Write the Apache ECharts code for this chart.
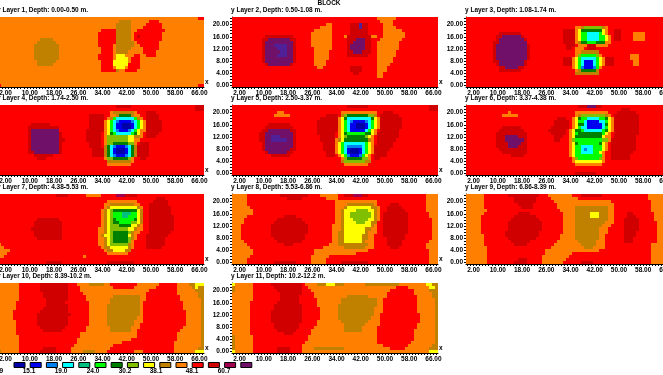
<!DOCTYPE html>
<html><head><meta charset="utf-8">
<style>html,body{margin:0;padding:0;background:#fff;overflow:hidden}#c{width:663px;height:375px}</style>
<script src="https://cdn.jsdelivr.net/npm/echarts@6/dist/echarts.min.js"></script>
</head><body><div id="c"></div>
<script>
const titles=["Layer 1, Depth: 0.00-0.50 m.","Layer 2, Depth: 0.50-1.08 m.","Layer 3, Depth: 1.08-1.74 m.","Layer 4, Depth: 1.74-2.50 m.","Layer 5, Depth: 2.50-3.37 m.","Layer 6, Depth: 3.37-4.38 m.","Layer 7, Depth: 4.38-5.53 m.","Layer 8, Depth: 5.53-6.86 m.","Layer 9, Depth: 6.86-8.39 m.","Layer 10, Depth: 8.39-10.2 m.","Layer 11, Depth: 10.2-12.2 m."];
const legendColors=["#0000a8","#0000f0","#0080f0","#00ffff","#00c080","#00ff00","#008000","#80c000","#ffff00","#c08000","#ff8000","#ff0000","#d00000","#a00050","#701068"];
const legendLabels=["11.9","15.1","19.0","24.0","30.2","38.1","48.1","60.7"];
// resistivity value standing for each colour band
const bandValues={A:11,U:12.6,S:14.2,C:16,T:18,N:20.2,G:22.7,L:25.4,Y:28.5,B:32,O:36,R:40.4,D:45.4,M:51,P:57,V:64};
const baseBand=["O","R","R","R","R","R","R","R","R","O","O"];
// rows top (y=22) to bottom (y=0); "from-toBand" spans over the layer's base band
const layer1=["66-67R","40-43B 50-52R","39-43B 49-53R","39-43B 48-53R","34-38R 39-43B 46-54R","33-38R 39-43B 45-53R","33-38R 39-43B 45-53R 46-46D","14-17B 33-38R 39-43B 45-53R","13-18B 33-38R 39-44B 46-52R","12-19B 33-37R 39-44B 47-52R","12-19B 34-37R 39-43B 48-52R","12-19B 34-37R 39-42B 48-51R","12-19B 33-37R 39-41Y 45-46R 49-51R","12-19B 33-37R 39-42Y 44-46R","13-18B 34-37R 38-42Y 44-46R","13-17B 34-37R 38-42Y 43-46R","34-37R 39-41Y 43-46R","34-38R 39-39B 42-45R","","","","","0-0R 66-67R"];
const layer2=["48-53O","49-52O","31-32O 39-44D 42-42V 50-52O","29-32O 39-44D 42-42V 50-53O","27-32O 39-44D 50-55O","26-32O 39-44D 50-56O","11-19D 26-32O 37-37O 38-45D 46-47O 50-56O","10-20D 12-18P 26-32O 38-45D 41-43P 49-55O","10-20D 11-19P 26-32O 38-45D 40-43P 48-54O","10-20D 11-19P 14-17V 26-32O 38-45D 39-43P 48-54O","10-20D 11-19P 15-17V 27-32O 38-45D 39-43P 48-54O","10-20D 11-19P 16-17V 27-31O 38-45D 40-42P 48-53O","10-20D 11-19P 15-17V 27-31O 38-44D 48-53O","10-20D 11-19P 27-31O 48-52O","10-20D 11-19P 27-30O 48-52O","11-19D 12-18P 27-30O 48-51O","28-29O 39-42D 48-50O","39-42D 48-50O","40-41D 48-49O","48-49O","","",""];
const layer3=["","","","36-46O 38-45B 39-44L","32-35D 36-46O 37-45Y 38-44G 49-50D","11-17D 32-35D 36-46O 37-45Y 38-44N 40-43C 49-50D 55-58O","10-18D 12-17P 32-35D 36-47O 37-46Y 38-45N 40-43C 49-50D 55-58O","10-19D 11-18P 32-35D 36-47O 37-46Y 38-45N 40-43C 49-50D 55-58O","9-19D 11-19P 32-35D 36-47O 37-45B 38-45G 40-42N","9-20D 10-19P 33-35D 37-46O 40-42D","9-20D 10-19P 33-34D 36-38O 40-42D","9-20D 10-19P 36-43O 38-43B","9-20D 10-19P 36-44O 37-43L 38-42N 54-56O","9-20D 10-19P 32-34D 35-45O 36-44Y 37-43N 38-42C 46-48D 54-56O","9-19D 11-18P 32-34D 35-45O 36-44Y 37-43N 38-42C 39-41U 46-48D 55-56O","10-19D 11-18P 32-34D 35-45O 36-44Y 37-43N 38-42C 39-41U 46-48D 55-56O","11-18D 13-16P 35-44O 36-43Y 37-43N 38-42S 39-41U","11-17D 36-43O 37-43B 38-42G","36-43B","","","",""];
const layer4=["39-43D 65-67D","65-67D","37-45O 38-44B 49-51D","30-34D 37-46O 39-44B 40-43G 49-52D","30-34D 36-47O 37-46B 38-45N 39-44C 49-52D","30-34D 35-48O 36-47Y 37-46N 38-45C 39-44S 40-43U 49-53D","11-16D 30-34D 35-48O 36-47Y 37-46N 38-45C 39-44U 41-43A 49-53D","10-19D 30-34D 35-48O 36-47Y 37-46N 38-45C 39-44U 41-43A 49-53D","10-19D 11-19P 29-34D 35-48O 36-46Y 37-45N 38-44C 39-43S 40-42U 49-53D","10-20D 11-19P 29-33D 35-47O 36-46Y 37-45G 38-44N 39-43C 49-52D","10-20D 11-19P 29-33D 35-47O 36-42L 43-44Y 45-46B 49-51D","10-21D 11-19P 29-33D 35-46O 36-42L 43-44Y","10-20D 11-19P 30-33D 35-45O 36-44L 38-42G 47-49D","10-20D 11-19P 30-33D 35-45B 36-44G 37-43C 38-42S 39-41U 46-49D","10-20D 11-19P 31-34D 35-45B 36-44G 37-43C 38-42U 39-41A 46-49D","10-20D 12-19P 31-34D 35-45B 36-44G 37-43C 38-42U 39-41A 46-49D","12-17D 31-34D 35-45B 36-44G 37-43C 38-42S 39-41U 46-49D","13-15D 35-44O 36-43L 38-42G 47-48D","36-44O 36-43B","36-43O","","",""];
const layer5=["38-44D 65-67D","65-67D","15-16O 36-47O 50-52D","14-18O 31-34D 36-47B 37-46L 38-44G 49-54D","29-34D 35-48O 36-47Y 37-46G 38-45C 49-55D","28-34D 35-48O 36-47Y 37-46N 38-45C 39-44S 40-43U 49-55D","12-18D 28-34D 35-48O 36-47Y 37-46N 38-45C 39-44U 41-43A 49-55D","11-19D 28-34D 35-48O 36-47Y 37-46N 38-45C 39-44U 41-43A 49-55D","10-20D 12-18P 28-34D 35-47O 36-46Y 37-45N 38-44C 39-43U 49-54D","9-20D 11-19P 28-33D 35-47O 36-46Y 37-45G 38-43N 48-54D","9-20D 11-19P 13-15V 29-33D 35-46O 36-45Y 37-44L 38-43G 48-54D","9-20D 11-19P 13-17V 29-33D 34-46O 35-45B 36-44Y 37-44G 48-53D","10-20D 11-19P 30-33D 34-46O 35-45Y 36-44N 37-43C 48-52D","10-20D 11-19P 30-33D 34-46O 35-45Y 36-44N 37-43C 38-42S 47-52D","10-20D 11-18P 30-33D 34-46O 35-45Y 36-44N 37-43C 38-42U 39-41A 47-51D","11-19D 12-17P 31-33D 34-46O 35-45Y 36-44N 37-43C 38-42U 39-41A 47-50D","13-18D 31-33D 35-45O 36-44Y 37-43N 38-42S 39-41U 47-50D","36-45O 37-44L 38-42G 47-48D","36-45B 37-43L","37-44O","","",""];
const layer6=["37-44D 40-42P","51-53D","14-14O 36-46O 50-55D","12-16O 36-47O 37-46B 38-45L 49-56D","30-32D 35-48O 36-47Y 37-46G 38-45N 40-43C 49-56D","29-33D 35-48O 36-47Y 37-46N 39-45C 40-43U 49-56D","29-33D 35-48O 36-47Y 37-46G 39-45C 40-44U 49-56D","12-17D 28-33D 35-48O 36-47Y 37-46N 38-45C 40-44U 49-56D","11-18D 27-32D 34-48O 35-47Y 36-46G 38-45N 39-44C 49-56D","10-19D 28-32D 34-47O 35-46Y 36-45N 37-44G 49-56D","10-19D 13-16P 29-31D 34-47O 35-45Y 36-44G 49-55D","10-19D 13-18P 29-30D 34-47O 35-46L 36-44N 48-55D","10-19D 14-17P 34-46O 35-45Y 36-44G 37-43N 48-55D","10-19D 14-16P 34-46O 35-45Y 36-44N 38-41C 48-55D","11-19D 34-46O 35-45Y 36-44N 38-41C 39-39S 48-55D","12-19D 34-45O 35-44Y 36-43N 38-41C 48-54D","15-18D 34-45O 35-44Y 36-44N 48-53D","35-45O 36-44L 37-43N 48-53D","35-45O 36-44Y","36-44O","","","36-42D"];
const layer7=["19-22D 29-33O 39-42M 42-45D","52-54D","36-45O 51-55D","35-46O 37-44B 50-55D","35-47O 36-46B 37-45Y 50-56D","34-47O 35-47B 36-46Y 37-45L 38-45G 50-56D","34-47O 35-47B 36-46Y 37-45L 38-45N 41-43T 50-56D","34-47O 35-47B 36-46Y 37-45L 38-45N 41-42T 50-57D","13-19D 34-47O 35-47B 36-46Y 37-45L 38-45G 39-44N 50-57D","12-20D 34-47O 35-47B 36-46Y 37-45L 38-43G 40-43N 50-57D","12-20D 34-47O 35-46B 36-45Y 37-42L 40-43G 50-57D","11-20D 33-47O 35-45B 36-44Y 37-42L 50-57D","12-20D 33-46O 35-44B 36-43Y 37-43L 38-42G 50-56D","12-20D 33-45O 34-44B 35-43Y 37-42L 38-42G 49-55D","13-20D 33-45O 35-44B 36-43Y 37-43L 38-42G 49-54D","33-44O 35-43B 36-43Y 37-43L 38-42G 49-54D","0-0O 33-44O 35-43B 36-42Y 37-42L 49-54D","0-1O 34-44O 35-43B 37-42Y 49-53D","0-3O 35-43O 36-43B 38-41Y","0-2O 36-42O","0-1O 28-28O","","16-20D 36-44D"];
const layer8=["0-4O 16-24D 29-34O 37-44D 40-42M 64-67O","0-4O 18-22D 31-34O 64-67O","0-4O 34-47O 64-67O","0-4O 34-47O 38-46B 52-54D 64-67O","0-5O 34-48O 37-47B 38-45Y 51-55D 64-67O","0-6O 34-48O 36-47B 37-46Y 41-44L 51-56D 64-67O","0-6O 34-48O 36-47B 37-46Y 39-45L 50-57D 65-67O","0-4O 17-20D 34-48O 36-47B 37-46Y 39-45L 50-57D 65-67O","0-3O 15-22D 34-48O 36-47B 37-46Y 40-44L 50-57D 66-67O","0-3O 14-23D 34-47O 36-47B 37-45Y 41-43L 50-57D 66-67O","0-2O 13-24D 33-47O 36-46B 37-45Y 50-57D 66-67O","0-2O 13-24D 33-47O 36-45B 37-43Y 50-57D 66-67O","0-2O 13-24D 33-47O 35-44B 37-43Y 50-57D 66-67O","0-2O 13-23D 33-46O 35-44B 37-42Y 50-56D 66-67O","0-2O 14-23D 33-46O 35-44B 37-42Y 51-56D 66-67O","0-3O 15-22D 33-46O 35-43B 37-42Y 51-55D 65-67O","0-4O 17-19D 32-46O 35-44B 51-55D 64-67O","0-5O 30-46O 37-43B 52-54D 64-67O","0-6O 27-44O 65-67O","0-6O 27-40O 65-67O","0-5O 26-31O 65-67O","0-4O 26-30O 65-67O","0-4O 14-20D 26-30O 36-44D 65-67O"];
const layer9=["0-5O 14-23D 27-34O 38-44D 60-67O","0-5O 16-22D 28-36O 60-67O","0-5O 16-22D 29-47O 61-67O","0-5O 17-21D 30-48O 61-67O","0-5O 18-21D 30-48O 36-46B 61-67O","0-6O 31-48O 36-46B 61-67O","0-5O 17-20D 32-48O 36-46B 41-43Y 53-54D 62-67O","0-4O 16-22D 32-48O 36-46B 41-43Y 53-55D 62-67O","0-4O 15-23D 32-48O 36-46B 52-56D 62-67O","0-4O 14-24D 32-48O 36-45B 52-56D 63-67O","0-4O 14-24D 32-47O 36-44B 52-56D 63-67O","0-4O 14-24D 32-46O 36-43B 52-56D 63-67O","0-4O 13-23D 32-46O 36-43B 52-55D 63-67O","0-5O 13-23D 31-45O 36-43B 52-55D 63-67O","0-5O 14-22D 31-45O 36-43B 52-54D 63-67O","0-5O 15-20D 30-45O 37-42B 52-54D 63-67O","0-5O 16-19D 29-45O 38-42B 61-67O","0-6O 28-45O 39-41B 61-67O","0-6O 26-43O 61-67O","0-6O 26-34O 61-67O","0-6O 25-33O 61-67O","0-6O 17-19D 25-32O 61-67O","0-6O 16-19D 25-31O 38-41D 61-67O"];
const layer10=["7-25R 14-22D 30-34B 37-45R 53-58R 63-64B 65-67Y","7-26R 14-22D 38-44R 52-58R 64-64B 65-65Y 66-67B","7-26R 14-22D 50-58R 65-67B","7-27R 15-22D 49-58R 66-67B","7-28R 15-22D 38-46B 49-59R 66-67B","7-28R 16-22D 37-46B 49-59R 67-67B","6-29R 16-21D 37-46B 48-60R 67-67B","6-29R 16-22D 36-46B 48-60R 67-67B","6-29R 15-22D 36-46B 48-60R 67-67B","5-29R 14-22D 36-46B 48-61R 67-67B","5-29R 13-23D 36-46B 48-61R 67-67B","5-29R 13-22D 36-45B 48-61R 67-67B","6-29R 13-22D 36-44B 48-61R 67-67B","6-29R 13-22D 36-44B 47-61R 67-67B","6-28R 14-21D 37-43B 47-60R 67-67B","6-28R 15-20D 37-43B 46-59R 67-67B","6-26R 46-58R 67-67B","7-26R 46-58R 67-67B","7-25R 44-58R 67-67B","7-25R 41-57R 67-67B","7-24R 38-57R 67-67B","7-23R 15-18D 37-57R 66-67B","0-0B 7-23R 14-18D 28-31B 36-57R 45-47O 65-67Y"];
const layer11=["0-0Y 7-23R 13-22D 28-36B 31-33Y 44-54B 64-65Y 66-67B","0-0B 7-24R 14-22D 54-57R 65-66Y 67-67B","0-0B 7-25R 15-22D 52-59R 65-67B","7-26R 16-22D 51-59R 66-67B","7-26R 16-21D 38-44B 51-60R 66-67B","7-27R 16-21D 36-47B 50-60R 67-67B","6-27R 15-21D 36-47B 50-60R 67-67B","6-27R 14-22D 35-47B 50-60R 67-67B","6-28R 14-22D 35-46B 50-60R 67-67B","6-28R 13-22D 35-46B 50-60R 67-67B","6-28R 13-22D 35-46B 49-61R 67-67B","6-28R 13-22D 35-45B 49-61R 67-67B","6-27R 13-22D 36-44B 49-61R 67-67B","6-27R 14-21D 37-43B 49-60R 67-67B","6-26R 14-21D 37-42B 48-60R 67-67B","6-25R 15-20D 37-42B 48-59R 67-67B","6-25R 17-19D 48-59R 67-67B","0-0B 7-24R 48-59R 67-67B","0-0B 7-24R 48-59R 67-67B","0-0B 7-23R 48-58R 67-67B","0-0B 7-22R 50-57R 66-67B","0-0B 7-22R 15-18D 27-36B 52-56R 65-67B","0-0Y 7-22R 15-18D 65-67Y"];
const layers=[layer1,layer2,layer3,layer4,layer5,layer6,layer7,layer8,layer9,layer10,layer11];

const xCats=[];for(let i=0;i<68;i++)xCats.push(String(i));
const yCats=[];for(let i=0;i<23;i++)yCats.push(String(i));
const lefts=[-2,232,466],tops=[17,105,194,283],W=206,H=70;
const FONT="Liberation Sans";
const FS=6.5;
// one data item per run of equal cells in a row: [firstColumn, y, value, lastColumn]
function runs(rows,base){
  const out=[];
  rows.forEach((row,r)=>{
    const line=new Array(68).fill(base);
    (row.match(/\d+-\d+[A-Z]/g)||[]).forEach(t=>{
      const m=t.match(/(\d+)-(\d+)([A-Z])/);
      for(let c=+m[1];c<=+m[2];c++)line[c]=m[3];
    });
    let s=0;
    for(let c=1;c<=68;c++){
      if(c===68||line[c]!==line[s]){out.push([s,22-r,bandValues[line[s]],c-1]);s=c;}
    }
  });
  return out;
}
function renderRun(params,api){
  const a=api.coord([api.value(0),api.value(1)]);
  const b=api.coord([api.value(3),api.value(1)]);
  const sz=api.size([1,1]);
  const x0=Math.round(a[0]-sz[0]/2),x1=Math.round(b[0]+sz[0]/2);
  const y0=Math.round(a[1]-sz[1]/2),y1=Math.round(a[1]+sz[1]/2);
  return {type:'rect',shape:{x:x0,y:y0,width:x1-x0,height:y1-y0},style:{fill:api.visual('color')}};
}
const grid=[],xAxis=[],yAxis=[],series=[],graphic=[];
const txt=(x,y,s,o)=>graphic.push({type:'text',x,y,silent:true,style:Object.assign({text:s,font:"bold "+FS+"px '"+FONT+"'",fill:'#000',textVerticalAlign:'middle'},o||{})});
layers.forEach((rows,i)=>{
  const L=lefts[i%3],T=tops[Math.floor(i/3)];
  grid.push({left:L,top:T,width:W,height:H,outerBoundsMode:'none',containLabel:false});
  xAxis.push({type:'category',gridIndex:i,data:xCats,position:'bottom',
    axisLine:{show:true,lineStyle:{color:'#000',width:1}},
    axisTick:{show:true,interval:0,alignWithLabel:true,length:2,lineStyle:{color:'#000'}},
    axisLabel:{interval:0,margin:3,fontSize:FS,fontWeight:'bold',fontFamily:FONT,color:'#000',hideOverlap:false,
      showMinLabel:false,showMaxLabel:false,
      formatter:(v)=>((+v-2)%8===0?(+v).toFixed(2):'')},
    splitLine:{show:false}});
  yAxis.push({type:'category',gridIndex:i,data:yCats,
    axisLine:{show:true,lineStyle:{color:'#000',width:1}},
    axisTick:{show:true,interval:0,alignWithLabel:true,length:2,lineStyle:{color:'#000'}},
    axisLabel:{interval:0,margin:3,fontSize:FS,fontWeight:'bold',fontFamily:FONT,color:'#000',
      formatter:(v)=>(+v%4===0&&+v<=20?(+v).toFixed(2):'')},
    splitLine:{show:false}});
  series.push({type:'custom',name:titles[i],xAxisIndex:i,yAxisIndex:i,data:runs(rows,baseBand[i]),renderItem:renderRun,
    encode:{x:0,y:1},progressive:0,animation:false,silent:true,clip:false,z:1});
  txt(L-1,T-6.5,"y "+titles[i]);
  txt(L+W+1,T+65.5,"x");
});
txt(329,3,"BLOCK",{textAlign:'center'});
legendColors.forEach((c,i)=>{
  graphic.push({type:'rect',silent:true,shape:{x:14+i*16.2,y:362.5,width:11,height:5},style:{fill:c,stroke:'#000',lineWidth:1}});
});
const legendX=[-3,29,61,93,125,156,192,224];
legendLabels.forEach((s,i)=>txt(legendX[i],371.5,s,{textAlign:'center'}));
const bandOrder=["A","U","S","C","T","N","G","L","Y","B","O","R","D","M","P"];
const pieces=bandOrder.map((b,i)=>({min:bandValues[b]-0.1,max:bandValues[b]+0.1,color:legendColors[i]}));
pieces.push({min:bandValues.V-0.1,max:bandValues.V+0.1,color:"#502098"});
const chart=echarts.init(document.getElementById('c'),null,{renderer:'canvas'});
chart.setOption({animation:false,backgroundColor:'#fff',grid,xAxis,yAxis,series,graphic,
  tooltip:{show:false},
  visualMap:{type:'piecewise',show:false,dimension:2,pieces,seriesIndex:series.map((s,i)=>i)}});
</script></body></html>
